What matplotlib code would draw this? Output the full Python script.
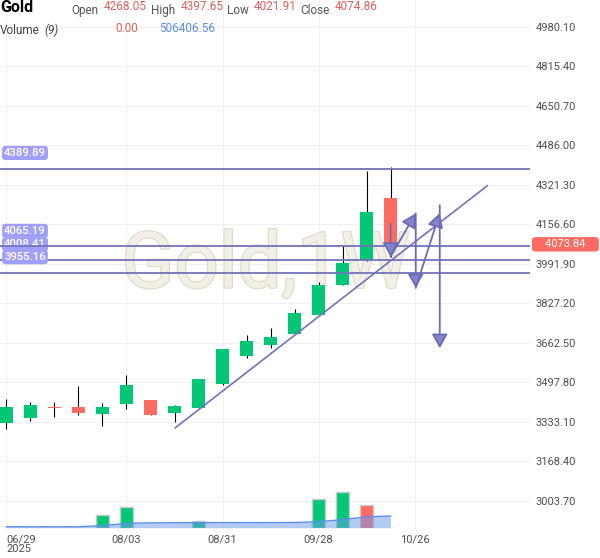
import matplotlib.pyplot as plt
import matplotlib.patheffects as pe

plt.rcParams['font.family'] = ['Roboto', 'DejaVu Sans']

# Weekly candles, Gold 1W
dates = ['06/29', '07/06', '07/13', '07/20', '07/27', '08/03', '08/10', '08/17', '08/24',
         '08/31', '09/07', '09/14', '09/21', '09/28', '10/05', '10/12', '10/19']
opens  = [3330, 3349, 3397, 3396, 3367, 3408, 3425, 3370, 3393, 3491, 3608, 3654, 3701, 3780, 3905, 4010, 4268.05]
highs  = [3428, 3416, 3416, 3483, 3411, 3530, 3425, 3405, 3513, 3638, 3696, 3724, 3803, 3918, 4072, 4381, 4397.65]
lows   = [3302, 3339, 3352, 3364, 3315, 3389, 3362, 3334, 3392, 3488, 3601, 3643, 3700, 3779, 3903, 4005, 4021.91]
closes = [3396, 3404, 3393, 3370, 3396, 3487, 3362, 3401, 3512, 3637, 3671, 3687, 3787, 3904, 3996, 4209, 4074.86]

# volume and its 9-period average
volumes = [0, 0, 0, 0, 540000, 910000, 0, 0, 310000, 0, 0, 0, 0, 1250000, 1550000, 1000000, 0]
vol_up  = [True] * 15 + [False, False]
vol_ma  = [40000, 40000, 40000, 40000, 90000, 185000, 210000, 215000, 220000, 220000,
           220000, 220000, 225000, 260000, 350000, 470000, 506406.56]

tick_idx = [0, 5, 9, 13, 17]
tick_labels = ['06/29\n2025', '08/03', '08/31', '09/28', '10/26']
price_ticks = [3003.70, 3168.40, 3333.10, 3497.80, 3662.50, 3827.20, 3991.90,
               4156.60, 4321.30, 4486.00, 4650.70, 4815.40, 4980.10]

levels = [4389.89, 4065.19, 4008.41, 3955.16]
trend_x = [7.03, 20.03]
trend_y = [3308.7, 4317.9]
# zig-zag arrows: (x0, y0, x1, y1)
arrows = [(16.0, 4160.7, 16.0, 4022.0),
          (16.0, 4022.0, 17.05, 4203.0),
          (17.05, 4203.0, 17.05, 3892.0),
          (17.05, 3892.0, 18.05, 4204.0),
          (18.05, 4237.0, 18.05, 3641.0)]
last_price = 4073.84

green = '#02c875'
red = '#ff6b63'
draw = '#7272bb'

fig = plt.figure(figsize=(6, 5.58), dpi=100)
ax = fig.add_axes([0, 28 / 558, 530 / 600, 530 / 558])
ax.set_xlim(-0.27, 21.81)
ax.set_ylim(2882.5, 5092.7)

ax.grid(color='#f0f0f0', lw=0.8)
ax.set_axisbelow(True)
for s in ax.spines.values():
    s.set_visible(False)

ax.yaxis.tick_right()
ax.set_yticks(price_ticks, ['%.2f' % p for p in price_ticks])
ax.tick_params(axis='y', length=0, pad=4.2, labelsize=8, labelcolor='#505050')
ax.set_xticks(tick_idx, tick_labels)
ax.tick_params(axis='x', length=0, pad=3, labelsize=8, labelcolor='#505050')
for lab in ax.get_xticklabels():
    lab.set_linespacing(0.95)
ax.get_xticklabels()[0].set_ha('left')

# watermark
ax.text(0.501, 0.4575, 'Gold,1W', transform=ax.transAxes, ha='center', va='baseline',
        fontsize=56, color='#f2efe6', zorder=1,
        path_effects=[pe.withStroke(linewidth=1.8, foreground='#e0dbcd')])

# candles
x = list(range(len(dates)))
cols = [green if c >= o else red for o, c in zip(opens, closes)]
ax.vlines(x, lows, highs, color='black', lw=0.8, zorder=2)
ax.bar(x, [max(abs(c - o), 4) for o, c in zip(opens, closes)],
       bottom=[min(o, c) for o, c in zip(opens, closes)],
       width=0.54, color=cols, zorder=2.5)

# horizontal levels with labels
for lv in levels:
    ax.axhline(lv, color=draw, lw=1.3, zorder=3)
    ax.annotate('%.2f' % lv, xy=(0, lv), xycoords=('axes fraction', 'data'),
                xytext=(18, 11.2), textcoords='offset points', ha='center', va='center',
                color='white', fontsize=8.2, fontweight='medium',
                zorder=2.2 if lv == 4008.41 else 4,
                bbox=dict(boxstyle='round,pad=0.18,rounding_size=0.3', fc='#a0a0fa', ec='none'))

# trend line and arrows
ax.plot(trend_x, trend_y, color=draw, lw=1.2, zorder=3)
for x0, y0, x1, y1 in arrows:
    ax.annotate('', xy=(x1, y1), xytext=(x0, y0),
                arrowprops=dict(arrowstyle='-|>,head_length=0.85,head_width=0.48',
                                ec='#6c6cb6', fc='#8484cc', lw=1.3, shrinkA=0, shrinkB=0),
                zorder=5)

# last price tag
ax.annotate('    %.2f    ' % last_price, xy=(1, last_price), xycoords=('axes fraction', 'data'),
            xytext=(25.5, 0), textcoords='offset points', ha='center', va='center',
            color='white', fontsize=8, annotation_clip=False,
            bbox=dict(boxstyle='round,pad=0.2,rounding_size=0.3', fc=red, ec='none'))

# volume panel
vax = fig.add_axes([0, (558 - 527.7) / 558, 530 / 600, 120 / 558])
vax.set_xlim(ax.get_xlim())
vax.set_ylim(0, 120 * 43300)
vax.axis('off')
vax.patch.set_alpha(0)
vax.bar(x, volumes, width=0.54, color=[green if u else red for u in vol_up],
        edgecolor='#c8c8c8', lw=1.0)
vax.fill_between(x, 0, vol_ma, color='#6b9beb', alpha=0.5, lw=0)
vax.plot(x, vol_ma, color='#5b8def', lw=1)

# header
def px(xp, yp):
    return xp / 600, 1 - yp / 558

fig.text(*px(0, 8), 'Gold', fontsize=11.5, fontweight='bold', va='center', color='black')
for lab, xl, val, xv in [('Open', 71, '4268.05', 104), ('High', 151, '4397.65', 181),
                         ('Low', 227, '4021.91', 254), ('Close', 300, '4074.86', 335)]:
    fig.text(*px(xl, 10.5), lab, fontsize=8.5, va='center', color='#555555')
    fig.text(*px(xv, 6.5), val, fontsize=8.5, va='center', color='#e0605a')
fig.text(*px(0, 30.5), 'Volume', fontsize=8.5, va='center', color='#444444')
fig.text(*px(44, 30.5), '(9)', fontsize=8.5, va='center', color='#444444', style='italic')
fig.text(*px(115, 28), '0.00', fontsize=8.5, va='center', color='#e0605a')
fig.text(*px(159, 28), '506406.56', fontsize=8.5, va='center', color='#5b8def')

fig.savefig('out.png', dpi=100)
